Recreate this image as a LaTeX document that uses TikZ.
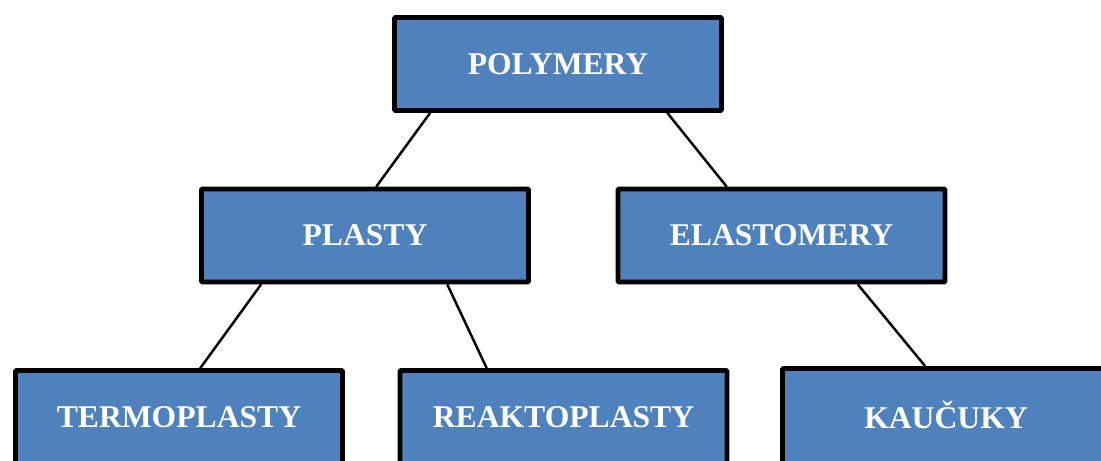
\documentclass[tikz,border=0pt]{standalone}
\usepackage{fontspec}
\setmainfont{Liberation Serif}
\definecolor{boxblue}{HTML}{4F81BD}
\tikzset{
    box/.style={draw=black, line width=2.6pt, fill=boxblue, rounded corners=0.5pt,
        minimum width=6.54cm, minimum height=1.86cm, inner sep=0pt,
        text=white, font=\fontsize{18}{20}\selectfont\bfseries},
    lowbox/.style={box, minimum height=2.3cm, text depth=0.44cm},
    link/.style={-, line width=1.4pt}
}
\begin{document}
\begin{tikzpicture}
    \clip (0,0) rectangle (22.02,9.22);
    \useasboundingbox (0,0) rectangle (22.02,9.22);
    % top
    \node[box] (poly) at (11.16,7.94) {POLYMERY};
    % middle row
    \node[box] (plasty) at (7.30,4.51) {PLASTY};
    \node[box] (elast) at (15.63,4.51) {ELASTOMERY};
    % bottom row (cut off by the page)
    \node[lowbox] (termo) at (3.58,0.66) {TERMOPLASTY};
    \node[lowbox] (reakt) at (11.27,0.66) {REAKTOPLASTY};
    \node[lowbox] (kauc) at (18.92,0.70) {KAUČUKY};
    % links
    \draw[link] ([xshift=0.76cm]poly.south west) -- ([xshift=3.54cm]plasty.north west);
    \draw[link] ([xshift=5.50cm]poly.south west) -- ([xshift=2.22cm]elast.north west);
    \draw[link] ([xshift=1.24cm]plasty.south west) -- ([xshift=3.74cm]termo.north west);
    \draw[link] ([xshift=4.96cm]plasty.south west) -- ([xshift=1.78cm]reakt.north west);
    \draw[link] ([xshift=4.84cm]elast.south west) -- ([xshift=2.90cm]kauc.north west);
\end{tikzpicture}
\end{document}
